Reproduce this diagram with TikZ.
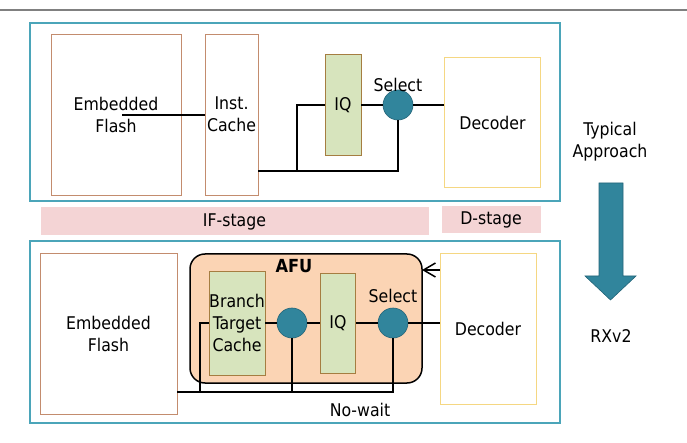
\documentclass[tikz,border=0pt]{standalone}
\usepackage{fontspec}
\setmainfont{DejaVu Sans Condensed}
\usetikzlibrary{arrows.meta}

\definecolor{frameteal}{RGB}{75,165,185}
\definecolor{muxteal}{RGB}{49,133,156}
\definecolor{muxedge}{RGB}{35,100,120}
\definecolor{bandpink}{RGB}{244,212,213}
\definecolor{afupeach}{RGB}{251,212,180}
\definecolor{qgreen}{RGB}{215,228,189}
\definecolor{qedge}{RGB}{165,125,65}
\definecolor{memedge}{RGB}{195,140,110}
\definecolor{decedge}{RGB}{245,215,130}

\begin{document}
\begin{tikzpicture}[x=1pt,y=-1pt,
        every node/.style={font=\fontsize{17.5}{22}\selectfont, align=center},
        membox/.style={draw=memedge, line width=0.8pt, fill=white, inner sep=0pt},
        qbox/.style={draw=qedge, line width=0.8pt, fill=qgreen, inner sep=0pt},
        decbox/.style={draw=decedge, line width=0.8pt, fill=white, inner sep=0pt},
        mux/.style={circle, draw=muxedge, line width=0.6pt, fill=muxteal, minimum size=30pt, inner sep=0pt},
        band/.style={fill=bandpink, inner sep=0pt},
        frame/.style={draw=frameteal, line width=1.5pt},
        wire/.style={line width=2pt}]
    \useasboundingbox (0,0) rectangle (687,443);

        \draw[gray, line width=1.2pt] (0,10) -- (687,10);

        \draw[frame] (30,23) rectangle (560,201);
        \node[membox, minimum width=130pt, minimum height=161pt] (flashA) at (116,114.5) {Embedded\\Flash};
        \node[membox, minimum width=53pt, minimum height=161pt] (cacheA) at (231.5,114.5) {Inst.\\Cache};
        \node[qbox, minimum width=36pt, minimum height=101pt] (iqA) at (343,105) {IQ};
        \node[mux] (selA) at (398,105) {};
        \node[decbox, minimum width=96pt, minimum height=130pt] (decA) at (492.5,122.5) {Decoder};
        \node (selAtxt) at (398,85) {Select};

        \coordinate (fA) at (122,115);
        \coordinate (busA) at (297,171);
        \draw[wire] (fA) -- (fA -| cacheA.west);
        \draw[wire] (iqA.east) -- (selA.west);
        \draw[wire] (selA.east) -- (selA -| decA.west);
        \draw[wire] (cacheA.east |- busA) -| (selA.south);
        \draw[wire] (busA) |- (iqA.west);

        \node (typical) at (610,142) {Typical\\Approach};
        \draw[draw=muxedge, fill=muxteal, line width=0.6pt]
            (599,183) -- (623,183) -- (623,276) -- (636,276) -- (610.5,300)
            -- (585,276) -- (599,276) -- cycle;
        \node (rxv2) at (611,336) {RXv2};

        \node[band, minimum width=388pt, minimum height=28pt] (ifstage) at (234.5,221.5) {IF-stage};
        \node[band, minimum width=99pt, minimum height=27pt] (dstage) at (491,219.5) {D-stage};

        \draw[frame] (30,241) rectangle (560,423);
        \node[membox, minimum width=137pt, minimum height=161pt] (flashB) at (108.5,333.5) {Embedded\\Flash};
        \draw[fill=afupeach, line width=1.5pt, rounded corners=15pt] (190,254) rectangle (422,383);
        \coordinate (afuE) at (422,270);
        \node[font=\fontsize{18}{20}\selectfont\bfseries] (afu) at (294,266) {AFU};
        \node[qbox, minimum width=56pt, minimum height=104pt] (btc) at (237,323) {Branch\\Target\\Cache};
        \node[mux] (selB1) at (292,323) {};
        \node[qbox, minimum width=35.5pt, minimum height=100pt] (iqB) at (338,323) {IQ};
        \node[mux] (selB2) at (393,323) {};
        \node (selBtxt) at (393,296) {Select};
        \node[decbox, minimum width=96pt, minimum height=151pt] (decB) at (488,328.5) {Decoder};

        \coordinate (busB) at (200,392);
        \draw[wire] (btc.east) -- (selB1.west);
        \draw[wire] (selB1.east) -- (iqB.west);
        \draw[wire] (iqB.east) -- (selB2.west);
        \draw[wire] (selB2.east) -- (selB2 -| decB.west);
        \draw[wire] (flashB.east |- busB) -| (selB2.south);
        \draw[wire] (busB) |- (btc.west);
        \draw[wire] (selB1.south) -- (selB1 |- busB);
        \draw[line width=1.5pt, -{Straight Barb[length=12pt,width=14pt]}] (afuE -| decB.west) -- (afuE);

        \node (nowait) at (360,410) {No-wait};

    \end{tikzpicture}
\end{document}
